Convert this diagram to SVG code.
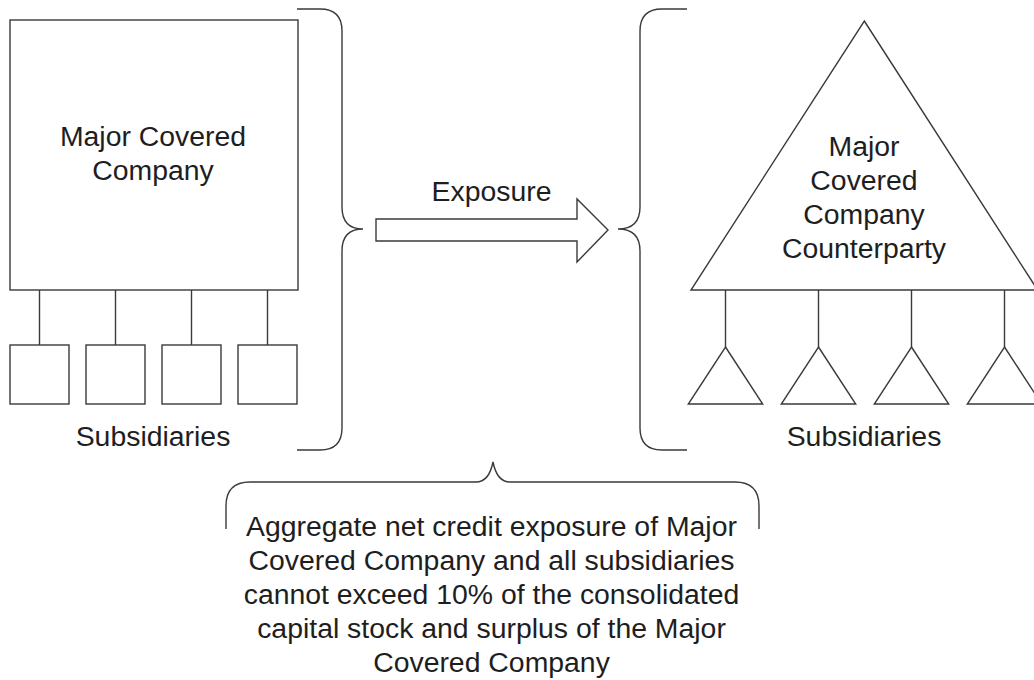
<svg xmlns="http://www.w3.org/2000/svg" width="1034" height="680" viewBox="0 0 1034 680">
<style>
.s{fill:#fff;stroke:#3a3a3a;stroke-width:1.4}
.l{fill:none;stroke:#3a3a3a;stroke-width:1.4}
.t{font-family:"Liberation Sans",Arial,sans-serif;font-size:28.4px;fill:#1e1e1e;text-anchor:middle}
</style>
<rect width="1034" height="680" fill="#fff"/>
<g id="connectors">
<line class="l" x1="39.5" y1="290" x2="39.5" y2="345"/>
<line class="l" x1="115.5" y1="290" x2="115.5" y2="345"/>
<line class="l" x1="191.5" y1="290" x2="191.5" y2="345"/>
<line class="l" x1="267.5" y1="290" x2="267.5" y2="345"/>
<line class="l" x1="725.5" y1="290" x2="725.5" y2="347"/>
<line class="l" x1="818.5" y1="290" x2="818.5" y2="347"/>
<line class="l" x1="911.5" y1="290" x2="911.5" y2="347"/>
<line class="l" x1="1004.5" y1="290" x2="1004.5" y2="347"/>
</g>
<g id="major-company">
<rect class="s" x="10" y="20" width="288" height="270"/>
<text class="t" x="153" y="146">Major Covered</text>
<text class="t" x="153" y="180">Company</text>
</g>
<g id="subsidiaries-left">
<rect class="s" x="10" y="345" width="59" height="59"/>
<rect class="s" x="86" y="345" width="59" height="59"/>
<rect class="s" x="162" y="345" width="59" height="59"/>
<rect class="s" x="238" y="345" width="59" height="59"/>
<text class="t" x="153" y="446">Subsidiaries</text>
</g>
<g id="left-brace">
<path class="l" d="M297,9 H320 Q342,9 342,31 V207 Q342,229 363,229 Q342,229 342,251 V428 Q342,450 320,450 H297"/>
</g>
<g id="exposure-arrow">
<polygon class="s" points="376,219 577,219 577,199 608,230 577,262 577,241 376,241"/>
<text class="t" x="491.5" y="201">Exposure</text>
</g>
<g id="right-brace">
<path class="l" d="M687,9 H662 Q640,9 640,31 V207 Q640,229 618,229 Q640,229 640,251 V428 Q640,450 662,450 H687"/>
</g>
<g id="counterparty">
<polygon class="s" points="864.3,21 1037.6,290 691,290"/>
<text class="t" x="864" y="156">Major</text>
<text class="t" x="864" y="190">Covered</text>
<text class="t" x="864" y="224">Company</text>
<text class="t" x="864" y="258">Counterparty</text>
</g>
<g id="subsidiaries-right">
<polygon class="s" points="725.5,347 762.7,404 688.3,404"/>
<polygon class="s" points="818.5,347 855.7,404 781.3,404"/>
<polygon class="s" points="911.5,347 948.7,404 874.3,404"/>
<polygon class="s" points="1004.5,347 1041.7,404 967.3,404"/>
<text class="t" x="864" y="446">Subsidiaries</text>
</g>
<g id="bottom-brace">
<path class="l" d="M226,529 V506 Q226,482 250,482 H476 Q489,482 493,462 Q497,482 510,482 H735 Q759,482 759,506 V529"/>
</g>
<g id="note">
<text class="t" x="491.5" y="536">Aggregate net credit exposure of Major</text>
<text class="t" x="491.5" y="570">Covered Company and all subsidiaries</text>
<text class="t" x="491.5" y="604">cannot exceed 10% of the consolidated</text>
<text class="t" x="491.5" y="638">capital stock and surplus of the Major</text>
<text class="t" x="491.5" y="672">Covered Company</text>
</g>
</svg>
